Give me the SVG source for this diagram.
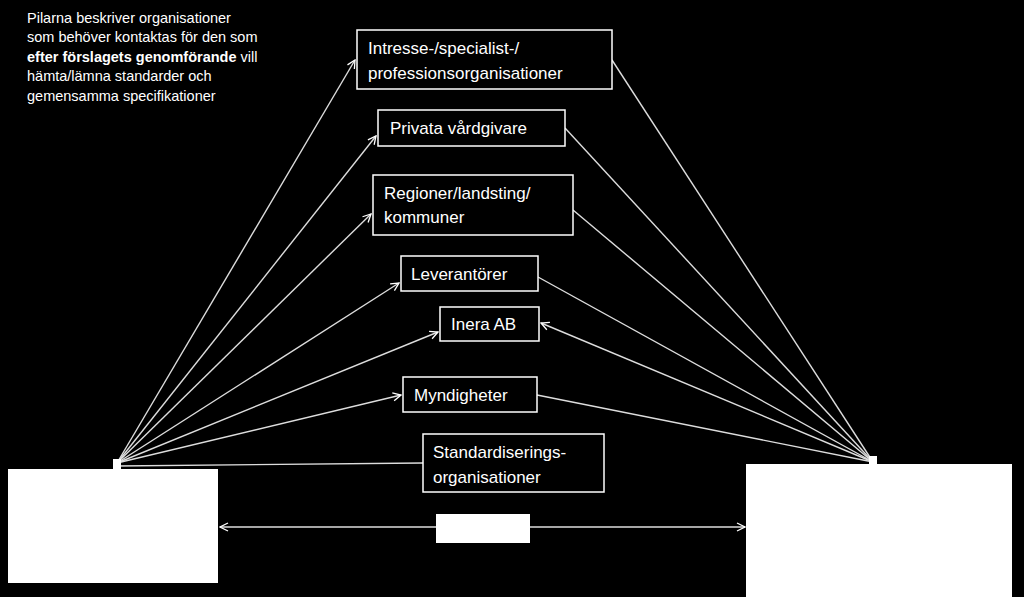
<svg xmlns="http://www.w3.org/2000/svg" width="1024" height="597" viewBox="0 0 1024 597">
<defs>
<marker id="a" viewBox="0 0 10 10" refX="9" refY="5" markerWidth="10" markerHeight="10" markerUnits="userSpaceOnUse" orient="auto-start-reverse"><path d="M1,1 L9,5 L1,9" fill="none" stroke="#fff" stroke-width="1.3"/></marker>
</defs>
<style>
.n{fill:#000;stroke:#fff;stroke-width:1.5}
.t{fill:#fff;font-family:"Liberation Sans",Arial,sans-serif;font-size:17px}
.c line{stroke:#ddd;stroke-width:1.4}
.w{fill:#fff}
</style>
<rect width="1024" height="597" fill="#000"/>
<text fill="#fff" font-family="Liberation Sans,Arial,sans-serif" font-size="14.5">
<tspan x="27" y="23">Pilarna beskriver organisationer</tspan>
<tspan x="27" y="42">som behöver kontaktas för den som</tspan>
<tspan x="27" y="62"><tspan font-weight="bold">efter förslagets genomförande</tspan> vill</tspan>
<tspan x="27" y="81">hämta/lämna standarder och</tspan>
<tspan x="27" y="101">gemensamma specifikationer</tspan>
</text>
<g class="c">
<line x1="117" y1="463" x2="355" y2="60" marker-end="url(#a)"/>
<line x1="117" y1="463" x2="376" y2="136" marker-end="url(#a)"/>
<line x1="117" y1="463" x2="371" y2="214" marker-end="url(#a)"/>
<line x1="117" y1="463" x2="399" y2="283" marker-end="url(#a)"/>
<line x1="117" y1="463" x2="438" y2="332" marker-end="url(#a)"/>
<line x1="117" y1="463" x2="401" y2="395" marker-end="url(#a)"/>
<line x1="117" y1="466" x2="423" y2="463"/>
<line x1="873" y1="462" x2="612" y2="60"/>
<line x1="873" y1="462" x2="565" y2="128"/>
<line x1="873" y1="462" x2="573" y2="210"/>
<line x1="873" y1="462" x2="538" y2="277"/>
<line x1="873" y1="462" x2="541" y2="323" marker-end="url(#a)"/>
<line x1="873" y1="462" x2="537" y2="395"/>
<line x1="220" y1="527" x2="745" y2="527" marker-start="url(#a)" marker-end="url(#a)"/>
</g>
<g id="n1"><rect class="n" x="357" y="30" width="255" height="59"/><text class="t" x="368" y="54">Intresse-/specialist-/</text><text class="t" x="368" y="79">professionsorganisationer</text></g>
<g id="n2"><rect class="n" x="378" y="110" width="187" height="36"/><text class="t" x="390" y="134">Privata vårdgivare</text></g>
<g id="n3"><rect class="n" x="373" y="175" width="200" height="60"/><text class="t" x="384" y="199">Regioner/landsting/</text><text class="t" x="384" y="223">kommuner</text></g>
<g id="n4"><rect class="n" x="401" y="256" width="137" height="35"/><text class="t" x="411" y="280">Leverantörer</text></g>
<g id="n5"><rect class="n" x="440" y="307" width="99" height="34"/><text class="t" x="451" y="330">Inera AB</text></g>
<g id="n6"><rect class="n" x="403" y="377" width="134" height="35"/><text class="t" x="414" y="401">Myndigheter</text></g>
<g id="n7"><rect class="n" x="423" y="434" width="181" height="58"/><text class="t" x="433" y="458">Standardiserings-</text><text class="t" x="433" y="483">organisationer</text></g>
<g id="left"><rect class="w" x="8" y="469" width="210" height="114"/><rect class="w" x="113" y="459" width="8" height="10"/></g>
<g id="right"><rect class="w" x="746" y="464" width="266" height="133"/><rect class="w" x="869" y="456" width="8" height="8"/></g>
<g id="mid"><rect class="w" x="436" y="514" width="94" height="29"/></g>
</svg>
